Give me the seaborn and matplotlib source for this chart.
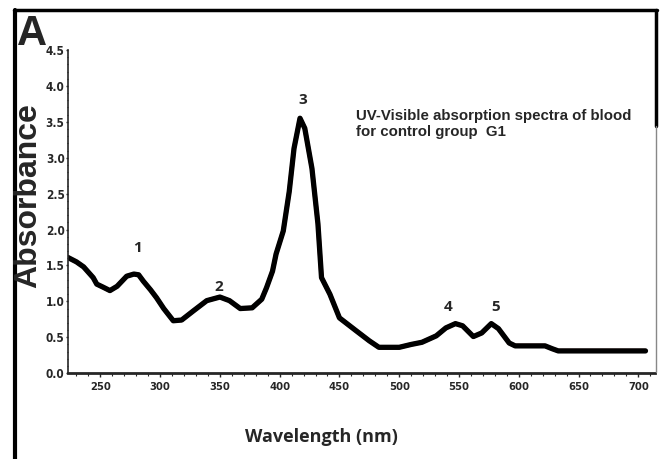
import matplotlib
matplotlib.use("Agg")
import matplotlib.pyplot as plt
from matplotlib.lines import Line2D
from matplotlib.ticker import MultipleLocator
import seaborn as sns
import pandas as pd

# ---- data ----
wavelength = [223, 230, 236, 244, 247, 252, 258, 264, 272, 278, 282, 286, 292, 297,
              303, 311, 318, 328, 339, 350, 358, 367, 377, 385, 389, 394, 397, 403,
              408, 412, 417, 421, 427, 432, 435, 442, 450, 464, 475, 483, 500, 510,
              519, 531, 539, 547, 553, 562, 569, 577, 583, 592, 597, 610, 622, 628,
              633, 650, 670, 690, 706]
absorbance = [1.61, 1.55, 1.48, 1.33, 1.24, 1.20, 1.15, 1.21, 1.35, 1.38, 1.37, 1.28,
              1.16, 1.05, 0.90, 0.73, 0.74, 0.87, 1.01, 1.06, 1.01, 0.90, 0.91, 1.03,
              1.19, 1.42, 1.66, 1.98, 2.53, 3.13, 3.55, 3.41, 2.85, 2.08, 1.33, 1.10,
              0.77, 0.59, 0.45, 0.36, 0.36, 0.40, 0.43, 0.52, 0.63, 0.69, 0.66, 0.51,
              0.56, 0.69, 0.62, 0.42, 0.38, 0.38, 0.38, 0.34, 0.31, 0.31, 0.31, 0.31,
              0.31]
peak_labels = ["1", "2", "3", "4", "5"]
peak_x = [281, 349, 419, 541, 581]
peak_y = [1.74, 1.20, 3.80, 0.92, 0.92]
x_ticks = [250, 300, 350, 400, 450, 500, 550, 600, 650, 700]
y_ticks = [0.0, 0.5, 1.0, 1.5, 2.0, 2.5, 3.0, 3.5, 4.0, 4.5]

df = pd.DataFrame({"Wavelength": wavelength, "Absorbance": absorbance})

sns.set_style("ticks")
plt.rcParams["font.family"] = ["Liberation Sans", "DejaVu Sans"]

fig = plt.figure(figsize=(6.61, 4.59), dpi=100)
ax = fig.add_axes([0.103, 0.187, 0.888, 0.704])

sns.lineplot(data=df, x="Wavelength", y="Absorbance", ax=ax, color="#c0392b",
             linewidth=3.0, estimator=None, sort=False)
sns.lineplot(data=df, x="Wavelength", y="Absorbance", ax=ax, color="black",
             linewidth=3.8, estimator=None, sort=False)

ax.set_xlim(223, 714)
ax.set_ylim(0, 4.5)
ax.set_xticks(x_ticks)
ax.set_yticks(y_ticks)
ax.set_yticklabels([f"{v:.1f}" for v in y_ticks])
ax.xaxis.set_minor_locator(MultipleLocator(10))
ax.yaxis.set_minor_locator(MultipleLocator(0.1))

for lab in ax.get_xticklabels():
    lab.set_fontfamily("DejaVu Sans")
    lab.set_fontstretch("condensed")
    lab.set_fontweight("bold")
    lab.set_fontsize(8)
for lab in ax.get_yticklabels():
    lab.set_fontfamily("DejaVu Sans")
    lab.set_fontstretch("condensed")
    lab.set_fontweight("bold")
    lab.set_fontsize(8.5)

ax.tick_params(axis="x", which="major", length=3, width=1, pad=3, direction="out")
ax.tick_params(axis="x", which="minor", length=2, width=0.8, direction="out")
ax.tick_params(axis="y", which="major", length=1.5, width=1, pad=1, direction="out")
ax.tick_params(axis="y", which="minor", length=1, width=0.8, direction="out")

for s in ["top", "right"]:
    ax.spines[s].set_visible(False)
ax.spines["bottom"].set_linewidth(2.0)
ax.spines["left"].set_linewidth(1.2)
ax.spines["left"].set_linestyle((0, (3, 1)))

ax.set_xlabel("")
ax.set_ylabel("")

for t, x, y in zip(peak_labels, peak_x, peak_y):
    ax.text(x, y, t, ha="center", va="center", fontsize=11, fontweight="bold",
            family="Open Sans")

ax.text(0.49, 0.817,
        "UV-Visible absorption spectra of blood\nfor control group  G1",
        transform=ax.transAxes, ha="left", va="top", fontsize=10.8,
        fontweight="bold", linespacing=1.2)

fig.text(0.043, 0.575, "Absorbance", rotation=90, ha="center", va="center",
         fontsize=23, fontweight="heavy")
fig.text(0.486, 0.048, "Wavelength (nm)", ha="center", va="center",
         fontsize=13, fontweight="bold", family="Open Sans")
fig.text(0.026, 0.925, "A", ha="left", va="center", fontsize=30,
         fontweight="heavy")

# figure frame
fig.add_artist(Line2D([0.021, 0.994], [0.978, 0.978], color="black", lw=2.5,
                      transform=fig.transFigure))
fig.add_artist(Line2D([0.022, 0.022], [0.978, 0.0], color="black", lw=3,
                      transform=fig.transFigure))
fig.add_artist(Line2D([0.993, 0.993], [0.978, 0.725], color="black", lw=2.5,
                      transform=fig.transFigure))
fig.add_artist(Line2D([0.993, 0.993], [0.725, 0.19], color="#888888", lw=1,
                      transform=fig.transFigure))

fig.savefig("out.png", dpi=100)
